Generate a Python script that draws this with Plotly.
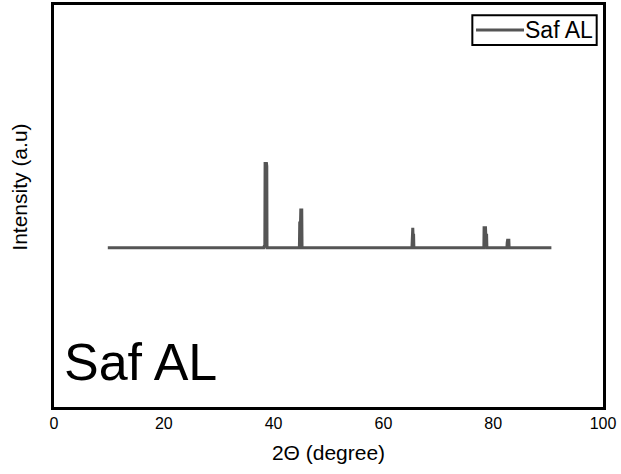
import plotly.graph_objects as go

# XRD pattern (2-theta in degrees, intensity in arbitrary units)
two_theta = [9.8, 38.2, 38.33, 38.4, 38.45, 38.7, 38.76, 38.8,
             44.7, 44.76, 44.9, 44.95, 45.13, 45.18,
             65.2, 65.25, 65.35, 65.4, 65.5, 65.55,
             78.3, 78.34, 78.6, 78.65, 78.8, 78.85,
             82.5, 82.55, 82.62, 82.85, 82.9, 90.6]
intensity = [39.6, 39.6, 40.2, 39.7, 60.6, 60.6, 59.9, 39.6,
             39.6, 45.8, 45.8, 49.0, 49.0, 39.6,
             39.6, 44.6, 44.6, 42.7, 42.7, 39.6,
             39.6, 44.6, 44.6, 42.7, 42.7, 39.6,
             39.6, 40.9, 41.5, 41.5, 39.6, 39.6]

series_name = "Saf AL"
x_ticks = [0, 20, 40, 60, 80, 100]

line_color = "#555555"
font_family = "Arial, Liberation Sans, sans-serif"

fig = go.Figure()
fig.add_trace(go.Scatter(
    x=two_theta, y=intensity, mode="lines", name=series_name,
    line=dict(color=line_color, width=3), showlegend=False,
))

# legend box drawn by hand (Origin-style: long line sample, tight box)
leg_x0, leg_x1, leg_y0, leg_y1 = 0.762, 0.9885, 0.9005, 0.9746
leg_mid = (leg_y0 + leg_y1) / 2

fig.update_layout(
    width=621, height=474,
    margin=dict(l=54, r=18, t=2, b=67),
    paper_bgcolor="white", plot_bgcolor="white",
    font=dict(family=font_family, color="black"),
    showlegend=False,
    xaxis=dict(
        range=[0, 100], tickvals=x_ticks, ticks="", showgrid=False, zeroline=False,
        showline=True, linecolor="black", linewidth=3, mirror=True,
        tickfont=dict(size=16, color="black"),
        title=dict(text="2Θ (degree)", font=dict(size=21, color="black"), standoff=15),
    ),
    yaxis=dict(
        range=[0, 100], showticklabels=False, ticks="", showgrid=False, zeroline=False,
        showline=True, linecolor="black", linewidth=3, mirror=True,
    ),
    shapes=[
        dict(type="rect", xref="paper", yref="paper", x0=leg_x0, x1=leg_x1, y0=leg_y0, y1=leg_y1,
             line=dict(color="black", width=2), fillcolor="white", layer="above"),
        dict(type="line", xref="paper", yref="paper", x0=0.7687, x1=0.8561, y0=leg_mid, y1=leg_mid,
             line=dict(color=line_color, width=3), layer="above"),
    ],
    annotations=[
        dict(
            text=series_name, xref="paper", yref="paper", x=0.855, y=leg_mid,
            xanchor="left", yanchor="middle", showarrow=False,
            font=dict(size=23, color="black", family=font_family),
        ),
        dict(
            text="Intensity (a.u)", xref="paper", yref="paper", x=-0.062, y=0.548,
            xanchor="center", yanchor="middle", textangle=-90, showarrow=False,
            font=dict(size=21, color="black", family=font_family),
        ),
        dict(
            text="Saf AL", xref="paper", yref="paper", x=0.015, y=0.035,
            xanchor="left", yanchor="bottom", showarrow=False,
            font=dict(size=52, color="black", family=font_family),
        ),
    ],
)

fig.write_html("out.html", config={"displayModeBar": False},
               post_script="document.body.style.margin='0';")
